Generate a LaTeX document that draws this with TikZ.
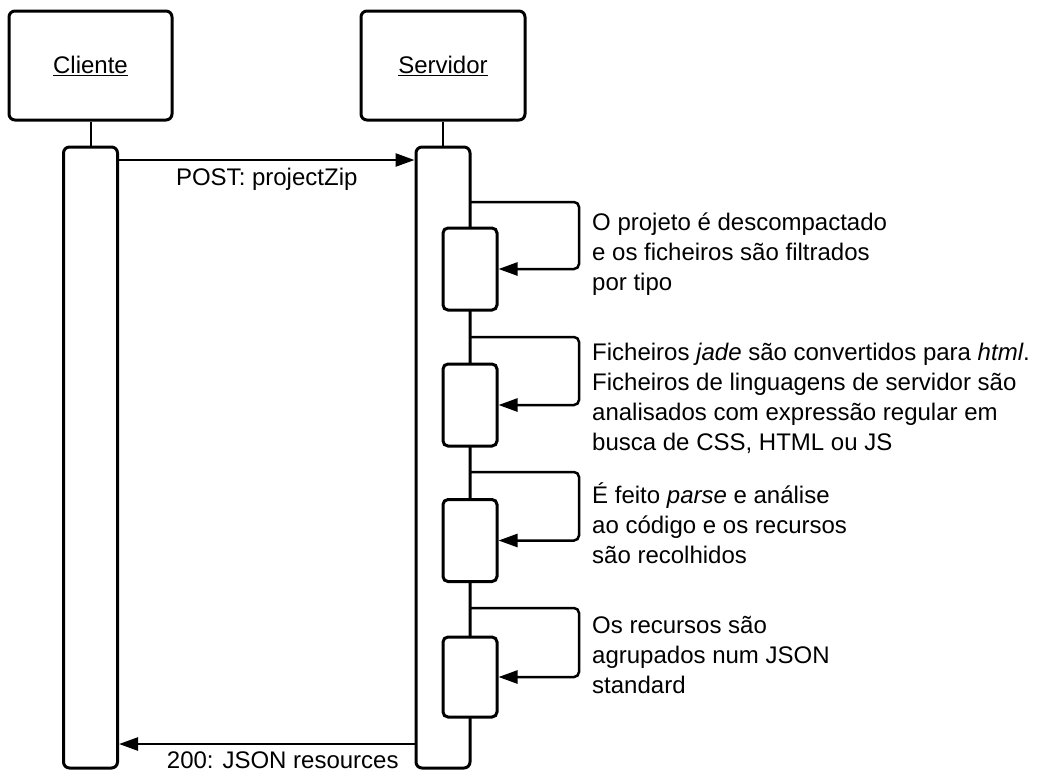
\documentclass[tikz,border=0pt]{standalone}
\usepackage{fontspec}
\setmainfont{Liberation Sans}
\usetikzlibrary{positioning, arrows.meta}

\begin{document}
\begin{tikzpicture}[x=1pt, y=-1pt,
  actor/.style={draw, line width=3pt, rounded corners=6pt, minimum width=163pt,
    minimum height=109pt, font=\fontsize{24}{30}\selectfont},
  bar/.style={draw, line width=3pt, rounded corners=6pt, fill=white,
    minimum width=54pt, inner sep=0pt},
  procbox/.style={draw, line width=3pt, rounded corners=5pt, fill=white,
    minimum width=54pt, minimum height=82pt, inner sep=0pt},
  msg/.style={-{Triangle[length=19pt, width=13pt]}, line width=2.5pt},
  selfmsg/.style={msg, rounded corners=5pt},
  life/.style={line width=2pt},
  note/.style={anchor=base west, align=left, inner sep=0pt,
    font=\fontsize{24}{30}\selectfont},
  lbl/.style={anchor=base, inner sep=0pt, font=\fontsize{24}{30}\selectfont}
]
\useasboundingbox (0,0) rectangle (1040,769);

% actors
\node[actor] (cli) at (90.5,65.5) {\underline{Cliente}};
\node[actor, minimum width=164pt] (srv) at (443,65.5) {\underline{Servidor}};

% activation bars
\node[bar, minimum height=621pt] (clibar) at (90.5,457.5) {};
\node[bar, minimum height=621pt] (srvbar) at (443,457.5) {};
\draw[life] (cli.south) -- (clibar.north);
\draw[life] (srv.south) -- (srvbar.north);

% processing steps
\node[procbox] (p1) at (470,269) {};
\node[procbox] (p2) at (470,405) {};
\node[procbox] (p3) at (470,540.5) {};
\node[procbox, minimum height=80pt] (p4) at (470,677) {};

\coordinate (s1) at (470,202);
\coordinate (s2) at (470,337);
\coordinate (s3) at (470,472);
\coordinate (s4) at (470,608);

\draw[selfmsg] (s1) -- ++(109,0) |- (p1.east);
\draw[selfmsg] (s2) -- ++(109,0) |- (p2.east);
\draw[selfmsg] (s3) -- ++(109,0) |- (p3.east);
\draw[selfmsg] (s4) -- ++(109,0) |- (p4.east);

% notes (base = baseline of the last line)
\node[note] (t1) at (592,290) {O projeto é descompactado\\e os ficheiros são filtrados\\por tipo};
\node[note] (t2) at (592,450) {Ficheiros \textit{jade} são convertidos para \textit{html}.\\Ficheiros de linguagens de servidor são\\analisados com expressão regular em\\busca de CSS, HTML ou JS};
\node[note] (t3) at (592,563) {É feito \textit{parse} e análise\\ao código e os recursos\\são recolhidos};
\node[note] (t4) at (592,693) {Os recursos são\\agrupados num JSON\\standard};

% messages
\draw[msg] (clibar.east |- 0,160) -- (srvbar.west |- 0,160)
  node[lbl, midway, yshift=-25pt] {POST: projectZip};
\draw[msg] (srvbar.west |- 0,744) -- (clibar.east |- 0,744)
  node[lbl, midway, xshift=16pt, yshift=-24pt] {200: JSON resources};

\end{tikzpicture}
\end{document}
